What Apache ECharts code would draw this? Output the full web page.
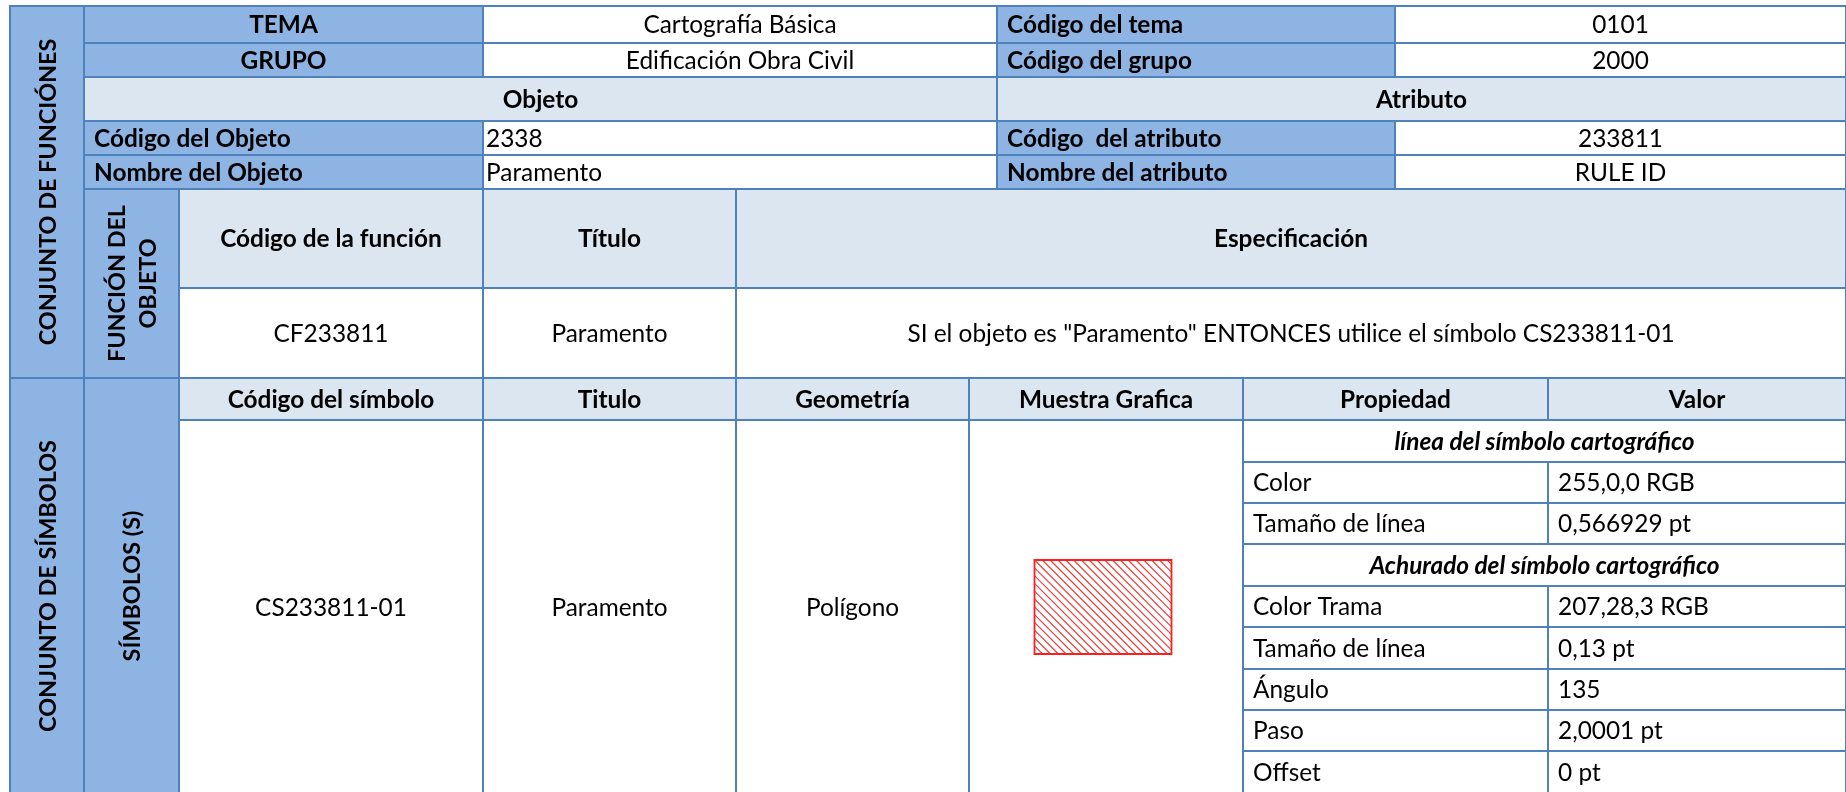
<!DOCTYPE html>
<html><head><meta charset="utf-8">
<script src="https://cdn.jsdelivr.net/npm/echarts@6/dist/echarts.min.js"></script>
<style>html,body{margin:0;padding:0;background:#fff}#c{width:1846px;height:792px}</style>
</head><body><div id="c"></div>
<script>
// ---------- DATA (texts of the table) ----------
const sectionTitles = ['CONJUNTO DE FUNCIÓNES', 'CONJUNTO DE SÍMBOLOS'];
const subSectionTitles = ['FUNCIÓN DEL\nOBJETO', 'SÍMBOLOS (S)'];
const themeLabels = ['TEMA', 'GRUPO'];
const themeValues = ['Cartografía Básica', 'Edificación Obra Civil'];
const themeCodeLabels = ['Código del tema', 'Código del grupo'];
const themeCodeValues = ['0101', '2000'];
const blockHeaders = ['Objeto', 'Atributo'];
const objectLabels = ['Código del Objeto', 'Nombre del Objeto'];
const objectValues = ['2338', 'Paramento'];
const attributeLabels = ['Código  del atributo', 'Nombre del atributo'];
const attributeValues = ['233811', 'RULE ID'];
const functionHeaders = ['Código de la función', 'Título', 'Especificación'];
const functionValues = ['CF233811', 'Paramento', 'SI el objeto es "Paramento" ENTONCES utilice el símbolo CS233811-01'];
const symbolHeaders = ['Código del símbolo', 'Titulo', 'Geometría', 'Muestra Grafica', 'Propiedad', 'Valor'];
const symbolValues = ['CS233811-01', 'Paramento', 'Polígono'];
const propertyGroups = ['línea del símbolo cartográfico', 'Achurado del símbolo cartográfico'];
const lineProperties = ['Color', 'Tamaño de línea'];
const lineValues = ['255,0,0 RGB', '0,566929 pt'];
const hatchProperties = ['Color Trama', 'Tamaño de línea', 'Ángulo', 'Paso', 'Offset'];
const hatchValues = ['207,28,3 RGB', '0,13 pt', '135', '2,0001 pt', '0 pt'];

// ---------- LAYOUT ----------
const colEdges = [10, 84, 179, 483, 736, 969, 997, 1243, 1395, 1548, 1846];
const rowEdges = [6, 43, 77, 121, 155, 189, 288, 378, 420, 462, 503, 544, 586, 627, 669, 710, 751, 794];
const FILLS = { D: '#8EB4E3', L: '#DCE6F1', W: '#FFFFFF' };
const BORDER = '#4F81BD';
const FONT = 'Lato';
const FS = 24.4;
const FS_ROT = 23.4;

const cells = [];
function cell(c0, c1, r0, r1, text, fill, opt) {
  cells.push(Object.assign({ c0, c1, r0, r1, text, fill, bold: false, italic: false, align: 'center', pad: 10, rot: false, hatch: false }, opt || {}));
}
// top section
cell(0, 1, 0, 7, sectionTitles[0], 'D', { bold: true, rot: true });
for (let i = 0; i < 2; i++) {
  cell(1, 3, i, i + 1, themeLabels[i], 'D', { bold: true });
  cell(3, 6, i, i + 1, themeValues[i], 'W');
  cell(6, 8, i, i + 1, themeCodeLabels[i], 'D', { bold: true, align: 'left' });
  cell(8, 10, i, i + 1, themeCodeValues[i], 'W');
}
cell(1, 6, 2, 3, blockHeaders[0], 'L', { bold: true });
cell(6, 10, 2, 3, blockHeaders[1], 'L', { bold: true });
for (let i = 0; i < 2; i++) {
  cell(1, 3, 3 + i, 4 + i, objectLabels[i], 'D', { bold: true, align: 'left' });
  cell(3, 6, 3 + i, 4 + i, objectValues[i], 'W', { align: 'left', pad: 3 });
  cell(6, 8, 3 + i, 4 + i, attributeLabels[i], 'D', { bold: true, align: 'left' });
  cell(8, 10, 3 + i, 4 + i, attributeValues[i], 'W');
}
cell(1, 2, 5, 7, subSectionTitles[0], 'D', { bold: true, rot: true });
const fCols = [[2, 3], [3, 4], [4, 10]];
fCols.forEach((c, i) => {
  cell(c[0], c[1], 5, 6, functionHeaders[i], 'L', { bold: true });
  cell(c[0], c[1], 6, 7, functionValues[i], 'W');
});
// bottom section
cell(0, 1, 7, 17, sectionTitles[1], 'D', { bold: true, rot: true });
cell(1, 2, 7, 17, subSectionTitles[1], 'D', { bold: true, rot: true });
const sCols = [[2, 3], [3, 4], [4, 5], [5, 7], [7, 9], [9, 10]];
sCols.forEach((c, i) => cell(c[0], c[1], 7, 8, symbolHeaders[i], 'L', { bold: true }));
symbolValues.forEach((v, i) => cell(sCols[i][0], sCols[i][1], 8, 17, v, 'W'));
cell(5, 7, 8, 17, '', 'W', { hatch: true });
cell(7, 10, 8, 9, propertyGroups[0], 'W', { bold: true, italic: true });
lineProperties.forEach((p, i) => {
  cell(7, 9, 9 + i, 10 + i, p, 'W', { align: 'left' });
  cell(9, 10, 9 + i, 10 + i, lineValues[i], 'W', { align: 'left' });
});
cell(7, 10, 11, 12, propertyGroups[1], 'W', { bold: true, italic: true });
hatchProperties.forEach((p, i) => {
  cell(7, 9, 12 + i, 13 + i, p, 'W', { align: 'left' });
  cell(9, 10, 12 + i, 13 + i, hatchValues[i], 'W', { align: 'left' });
});

const SAMPLE_W = 137, SAMPLE_H = 94, HATCH_STEP = 7.8;

function renderItem(params, api) {
  const c = cells[params.dataIndex];
  const p0 = api.coord([colEdges[c.c0], rowEdges[c.r0]]);
  const p1 = api.coord([colEdges[c.c1], rowEdges[c.r1]]);
  const x = p0[0], y = p0[1], w = p1[0] - p0[0], h = p1[1] - p0[1];
  const children = [{
    type: 'rect', shape: { x, y, width: w, height: h },
    style: { fill: FILLS[c.fill], stroke: BORDER, lineWidth: 2 }
  }];
  if (c.text) {
    const st = {
      text: c.text, fill: '#000', fontFamily: FONT, fontSize: c.rot ? FS_ROT : FS,
      fontWeight: c.bold ? 'bold' : 'normal', fontStyle: c.italic ? 'italic' : 'normal',
      verticalAlign: 'middle', align: c.align, lineHeight: 31
    };
    if (c.rot) {
      children.push({ type: 'text', x: x + w / 2 + 1, y: y + h / 2, rotation: Math.PI / 2,
        style: Object.assign(st, { x: 0, y: 0, align: 'center' }) });
    } else {
      const tx = c.align === 'left' ? x + c.pad : x + w / 2;
      children.push({ type: 'text', style: Object.assign(st, { x: tx, y: y + h / 2 + 1 }) });
    }
  }
  if (c.hatch) {
    const cx = x + w / 2 - 3, cy = y + h / 2;
    const L = cx - SAMPLE_W / 2, R = cx + SAMPLE_W / 2, T = cy - SAMPLE_H / 2, B = cy + SAMPLE_H / 2;
    // lines y = x + k (135 degree hatch)
    const kStart = T - L;
    for (let k = kStart - Math.ceil((R - L) / HATCH_STEP) * HATCH_STEP; k <= B - L; k += HATCH_STEP) {
      const xa = Math.max(L, T - k), xb = Math.min(R, B - k);
      if (xb <= xa) continue;
      children.push({ type: 'line', shape: { x1: xa, y1: xa + k, x2: xb, y2: xb + k },
        style: { stroke: 'rgba(225,40,35,0.9)', lineWidth: 1.1 } });
    }
    children.push({ type: 'rect', shape: { x: L, y: T, width: R - L, height: B - T },
      style: { fill: null, stroke: '#FF1E1E', lineWidth: 1.8 } });
  }
  return { type: 'group', children };
}

const chart = echarts.init(document.getElementById('c'), null, { renderer: 'canvas' });
chart.setOption({
  animation: false,
  grid: { left: 0, right: 0, top: 0, bottom: 0 },
  xAxis: { type: 'value', min: 0, max: 1846, show: false },
  yAxis: { type: 'value', min: 0, max: 792, inverse: true, show: false },
  series: [{
    type: 'custom', coordinateSystem: 'cartesian2d', silent: true, clip: false,
    renderItem,
    encode: { x: [0, 1], y: [2, 3] },
    data: cells.map(c => [colEdges[c.c0], colEdges[c.c1], rowEdges[c.r0], rowEdges[c.r1]])
  }]
});
</script></body></html>
